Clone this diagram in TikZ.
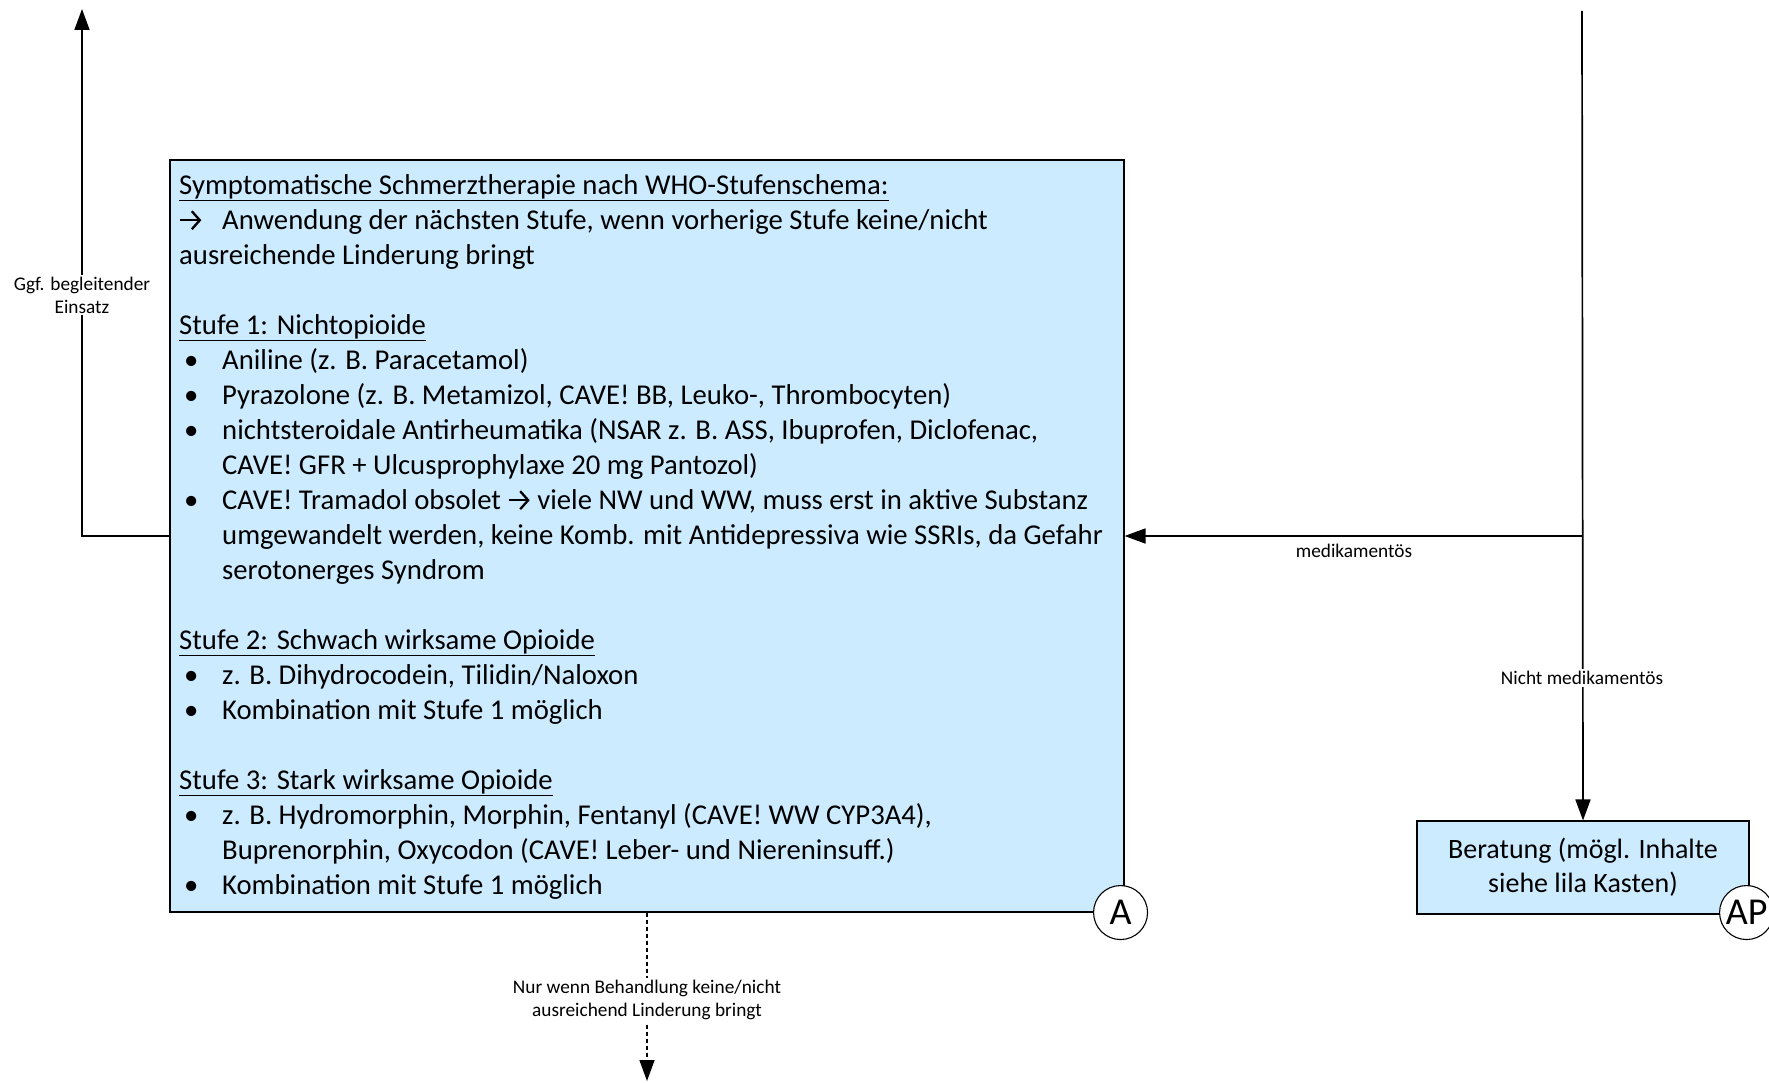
\documentclass[tikz,border=0pt]{standalone}
\usepackage{fontspec}
\setmainfont{Carlito}
\usetikzlibrary{arrows.meta}
\definecolor{boxblue}{RGB}{204,235,255}
\newcommand\mtfont{\fontsize{28.7}{35}\selectfont}
\newcommand\lblfont{\fontsize{19.3}{23}\selectfont}
\newcommand\bul{\hspace*{5pt}\makebox[38pt][l]{\textbullet}}
\newcommand\cont{\hspace*{43pt}}
\newcommand\arr{\tikz[baseline=0pt]\draw[line width=2.3pt,-{Straight Barb[length=8pt,width=18pt,line width=2.3pt]}] (1pt,9pt) -- (22pt,9pt);}
\begin{document}
\begin{tikzpicture}[x=1pt,y=-1pt,
  conn/.style={line width=1.7pt,-{Triangle[length=21pt,width=15pt]}},
  dotconn/.style={line width=1.3pt,dash pattern=on 4pt off 3pt,-{Triangle[length=21pt,width=15pt]}},
  bluebox/.style={draw,line width=1.1pt,fill=boxblue,inner sep=0},
  lbl/.style={font=\lblfont,align=center,inner sep=2pt},
  circ/.style={circle,draw,line width=1.1pt,fill=white,minimum size=54pt,inner sep=0,font=\fontsize{38}{40}\selectfont}]
\useasboundingbox (0,0) rectangle (1769,1083);
% boxes
\node[bluebox,minimum width=954pt,minimum height=752pt] (main) at (647,536) {};
\node[anchor=north west,inner sep=0,align=left,font=\mtfont] (maintext) at (179,168) {%
\rule{0pt}{26pt}\underline{Symptomatische Schmerztherapie nach WHO-Stufenschema:}\\
\makebox[43pt][l]{\arr}Anwendung der nächsten Stufe, wenn vorherige Stufe keine/nicht\\
ausreichende Linderung bringt\\[35pt]
\underline{Stufe 1: Nichtopioide}\\
\bul Aniline (z. B. Paracetamol)\\
\bul Pyrazolone (z. B. Metamizol, CAVE! BB, Leuko-, Thrombocyten)\\
\bul nichtsteroidale Antirheumatika (NSAR z. B. ASS, Ibuprofen, Diclofenac,\\
\cont CAVE! GFR + Ulcusprophylaxe 20 mg Pantozol)\\
\bul CAVE! Tramadol obsolet \arr{} viele NW und WW, muss erst in aktive Substanz\\
\cont umgewandelt werden, keine Komb. mit Antidepressiva wie SSRIs, da Gefahr\\
\cont serotonerges Syndrom\\[35pt]
\underline{Stufe 2: Schwach wirksame Opioide}\\
\bul z. B. Dihydrocodein, Tilidin/Naloxon\\
\bul Kombination mit Stufe 1 möglich\\[35pt]
\underline{Stufe 3: Stark wirksame Opioide}\\
\bul z. B. Hydromorphin, Morphin, Fentanyl (CAVE! WW CYP3A4),\\
\cont Buprenorphin, Oxycodon (CAVE! Leber- und Niereninsuff.)\\
\bul Kombination mit Stufe 1 möglich};
\node[bluebox,minimum width=332pt,minimum height=93pt,align=center,font=\fontsize{28}{34}\selectfont] (ber) at (1583,867.5) {Beratung (mögl. Inhalte\\siehe lila Kasten)};
% coordinates
\coordinate (ltop) at (82,9);
\coordinate (rtop) at (1582,11);
\coordinate (dbot) at (647,1081);
% connectors
\draw[conn] (main.west) -| (ltop);
\draw[conn] (rtop) -- (ber.north);
\draw[conn] (rtop |- main.east) -- (main.east);
\draw[dotconn] (main.south) -- (dbot);
% labels
\node[lbl,fill=white] (lg) at (82,295) {Ggf. begleitender\\Einsatz};
\node[lbl,fill=white] (lnm) at (1582,678) {Nicht medikamentös};
\node[lbl] (lm) at (1354,551) {medikamentös};
\node[lbl,fill=white] (lnur) at (647,1000) {Nur wenn Behandlung keine/nicht\\ausreichend Linderung bringt};
% circles
\node[circ] (ca) at ([xshift=-4pt]main.south east) {A};
\node[circ] (cap) at ([xshift=-3pt,yshift=2pt]ber.south east) {AP};
\end{tikzpicture}
\end{document}
